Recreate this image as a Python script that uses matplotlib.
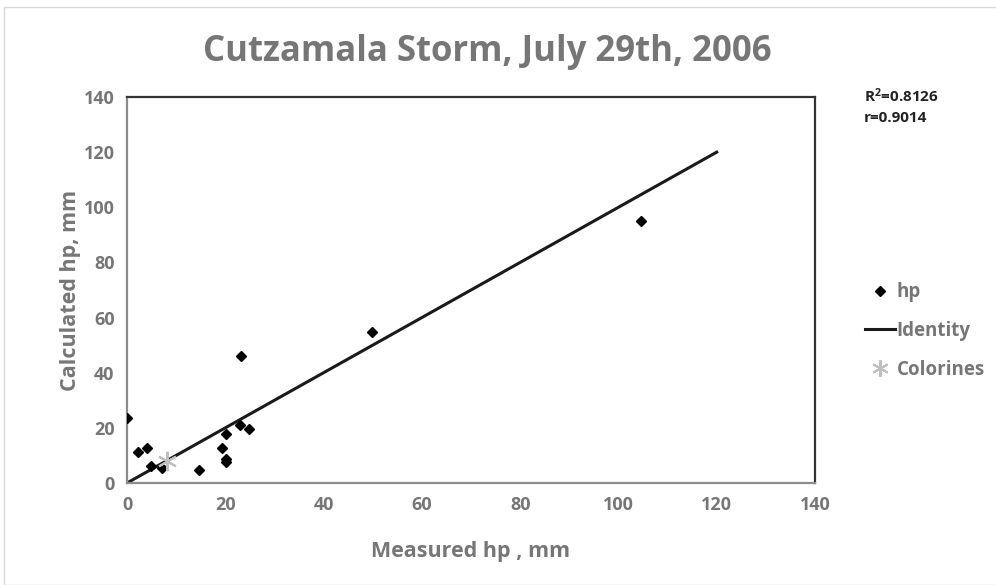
import matplotlib
matplotlib.use("Agg")
import matplotlib.pyplot as plt
from matplotlib.lines import Line2D
from matplotlib.patches import Rectangle

measured = [0, 2.3, 4.1, 4.9, 7.1, 14.6, 19.4, 20.1, 20.1, 20.1, 23.0, 23.2, 24.8, 49.9, 104.6]
calculated = [23.5, 11.2, 12.8, 6.3, 5.6, 4.6, 12.6, 17.7, 8.8, 7.6, 21.0, 46.2, 19.5, 54.8, 95.0]
identity_x = [0, 120]
identity_y = [0, 120]
colorines_x = [8.1]
colorines_y = [8.1]
ticks = [0, 20, 40, 60, 80, 100, 120, 140]
stats = ["R$^2$=0.8126", "r=0.9014"]

GRAY = "#767676"
plt.rcParams['font.family'] = ['Open Sans', 'DejaVu Sans']
plt.rcParams['font.weight'] = 'bold'
plt.rcParams['mathtext.default'] = 'regular'

fig = plt.figure(figsize=(9.96, 5.85), dpi=100)
fig.patches.append(Rectangle((4/996, 0), 1, 1 - 7/585, transform=fig.transFigure,
                             fill=False, edgecolor="#d9d9d9", linewidth=1))
ax = fig.add_axes([127/996, 1 - 483/585, (815 - 127)/996, (483 - 97)/585])

ax.plot(identity_x, identity_y, color="#1a1a1a", linewidth=2.2, zorder=2)
ax.plot(measured, calculated, linestyle="none", marker="D", markersize=5,
        color="black", zorder=3)
ax.plot(colorines_x, colorines_y, linestyle="none", marker=(6, 2, 0), markersize=14,
        color="#bfbfbf", markeredgewidth=1.5, zorder=4)

ax.set_xlim(0, 140)
ax.set_ylim(0, 140)
ax.set_xticks(ticks)
ax.set_yticks(ticks)
ax.tick_params(length=0, labelsize=13, labelcolor=GRAY, pad=9)
for lab in ax.get_xticklabels() + ax.get_yticklabels():
    lab.set_fontweight('bold')

ax.spines['top'].set_color("#333333")
ax.spines['right'].set_color("#333333")
ax.spines['left'].set_color("#8c8c8c")
ax.spines['bottom'].set_color("#8c8c8c")
for s in ax.spines.values():
    s.set_linewidth(1.6)

ax.set_xlabel("Measured hp , mm", fontsize=15.5, color=GRAY, fontweight='bold', labelpad=20)
ax.set_ylabel("Calculated hp, mm", fontsize=15.5, color=GRAY, fontweight='bold', labelpad=2)

fig.text(487/996, 1 - 52/585, "Cutzamala Storm, July 29th, 2006", ha="center", va="center",
         fontsize=25, color=GRAY, fontweight='bold')

fig.text(864/996, 1 - 96/585, stats[0], ha="left", va="center", fontsize=11,
         color="#222222", fontweight='bold')
fig.text(864/996, 1 - 118/585, stats[1], ha="left", va="center", fontsize=11,
         color="#222222", fontweight='bold')

handles = [
    Line2D([], [], linestyle="none", marker="D", markersize=5, color="black"),
    Line2D([], [], color="#1a1a1a", linewidth=2.2),
    Line2D([], [], linestyle="none", marker=(6, 2, 0), markersize=12, color="#bfbfbf",
           markeredgewidth=1.5),
]
leg = fig.legend(handles, ["hp", "Identity", "Colorines"], loc="center left",
                 bbox_to_anchor=(848/996, 1 - 331/585), frameon=False, fontsize=13.5,
                 handlelength=1.6, handletextpad=0.1, labelspacing=1.0)
for t in leg.get_texts():
    t.set_color(GRAY)
    t.set_fontweight('bold')

fig.savefig("out.png", dpi=100)
